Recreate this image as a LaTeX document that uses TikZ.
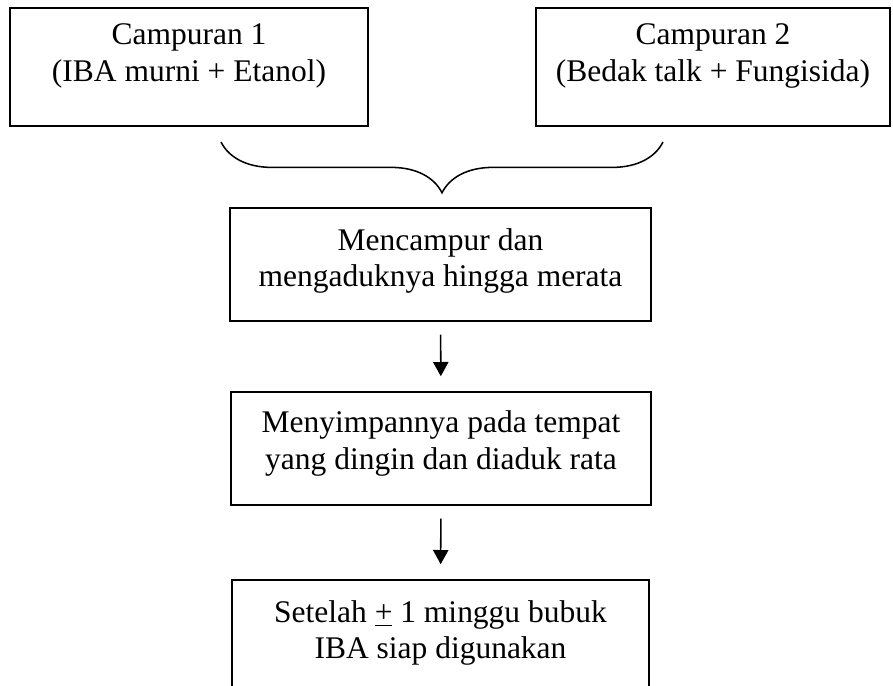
\documentclass[tikz,border=0pt]{standalone}
\usepackage{fontspec}
\setmainfont{Liberation Serif}
\usetikzlibrary{arrows.meta,decorations.pathreplacing}
\begin{document}
\begin{tikzpicture}[x=.3937pt,y=-.3937pt,font=\fontsize{12.4}{14.4}\selectfont,
  box/.style={draw=black,line width=.6pt,inner sep=0pt},
  txt/.style={align=center,inner sep=0pt},
  flow/.style={-{Triangle[width=6pt,length=5.6pt]},line width=.6pt,shorten <=5.1pt,shorten >=5.9pt}]
\useasboundingbox (0,0) rectangle (893,686);
\node[box,minimum width=140.9pt,minimum height=46.5pt] (mix1) at (189,67) {};
\node[txt] (mix1text) at (189,56) {Campuran 1\\(IBA murni + Etanol)};
\node[box,minimum width=139.4pt,minimum height=46.5pt] (mix2) at (713,67) {};
\node[txt] (mix2text) at (713,56) {Campuran 2\\(Bedak talk + Fungisida)};
\draw[line width=.6pt,decorate,decoration={brace,mirror,amplitude=20pt}] (221,142) -- (663,142);
\node[box,minimum width=165.7pt,minimum height=44.5pt] (stir) at (440.5,264.5) {};
\node[txt] (stirtext) at (440.5,261) {Mencampur dan\\mengaduknya hingga merata};
\node[box,minimum width=165.4pt,minimum height=44.5pt] (store) at (441,448.5) {};
\node[txt] (storetext) at (441,443.5) {Menyimpannya pada tempat\\yang dingin dan diaduk rata};
\node[box,minimum width=164.2pt,minimum height=44.5pt] (ready) at (440.5,636.5) {};
\node[txt] (readytext) at (440.5,633) {Setelah \underline{+} 1 minggu bubuk\\IBA siap digunakan};
\draw[flow] (stir) -- (store);
\draw[flow] (store) -- (ready);
\end{tikzpicture}
\end{document}
